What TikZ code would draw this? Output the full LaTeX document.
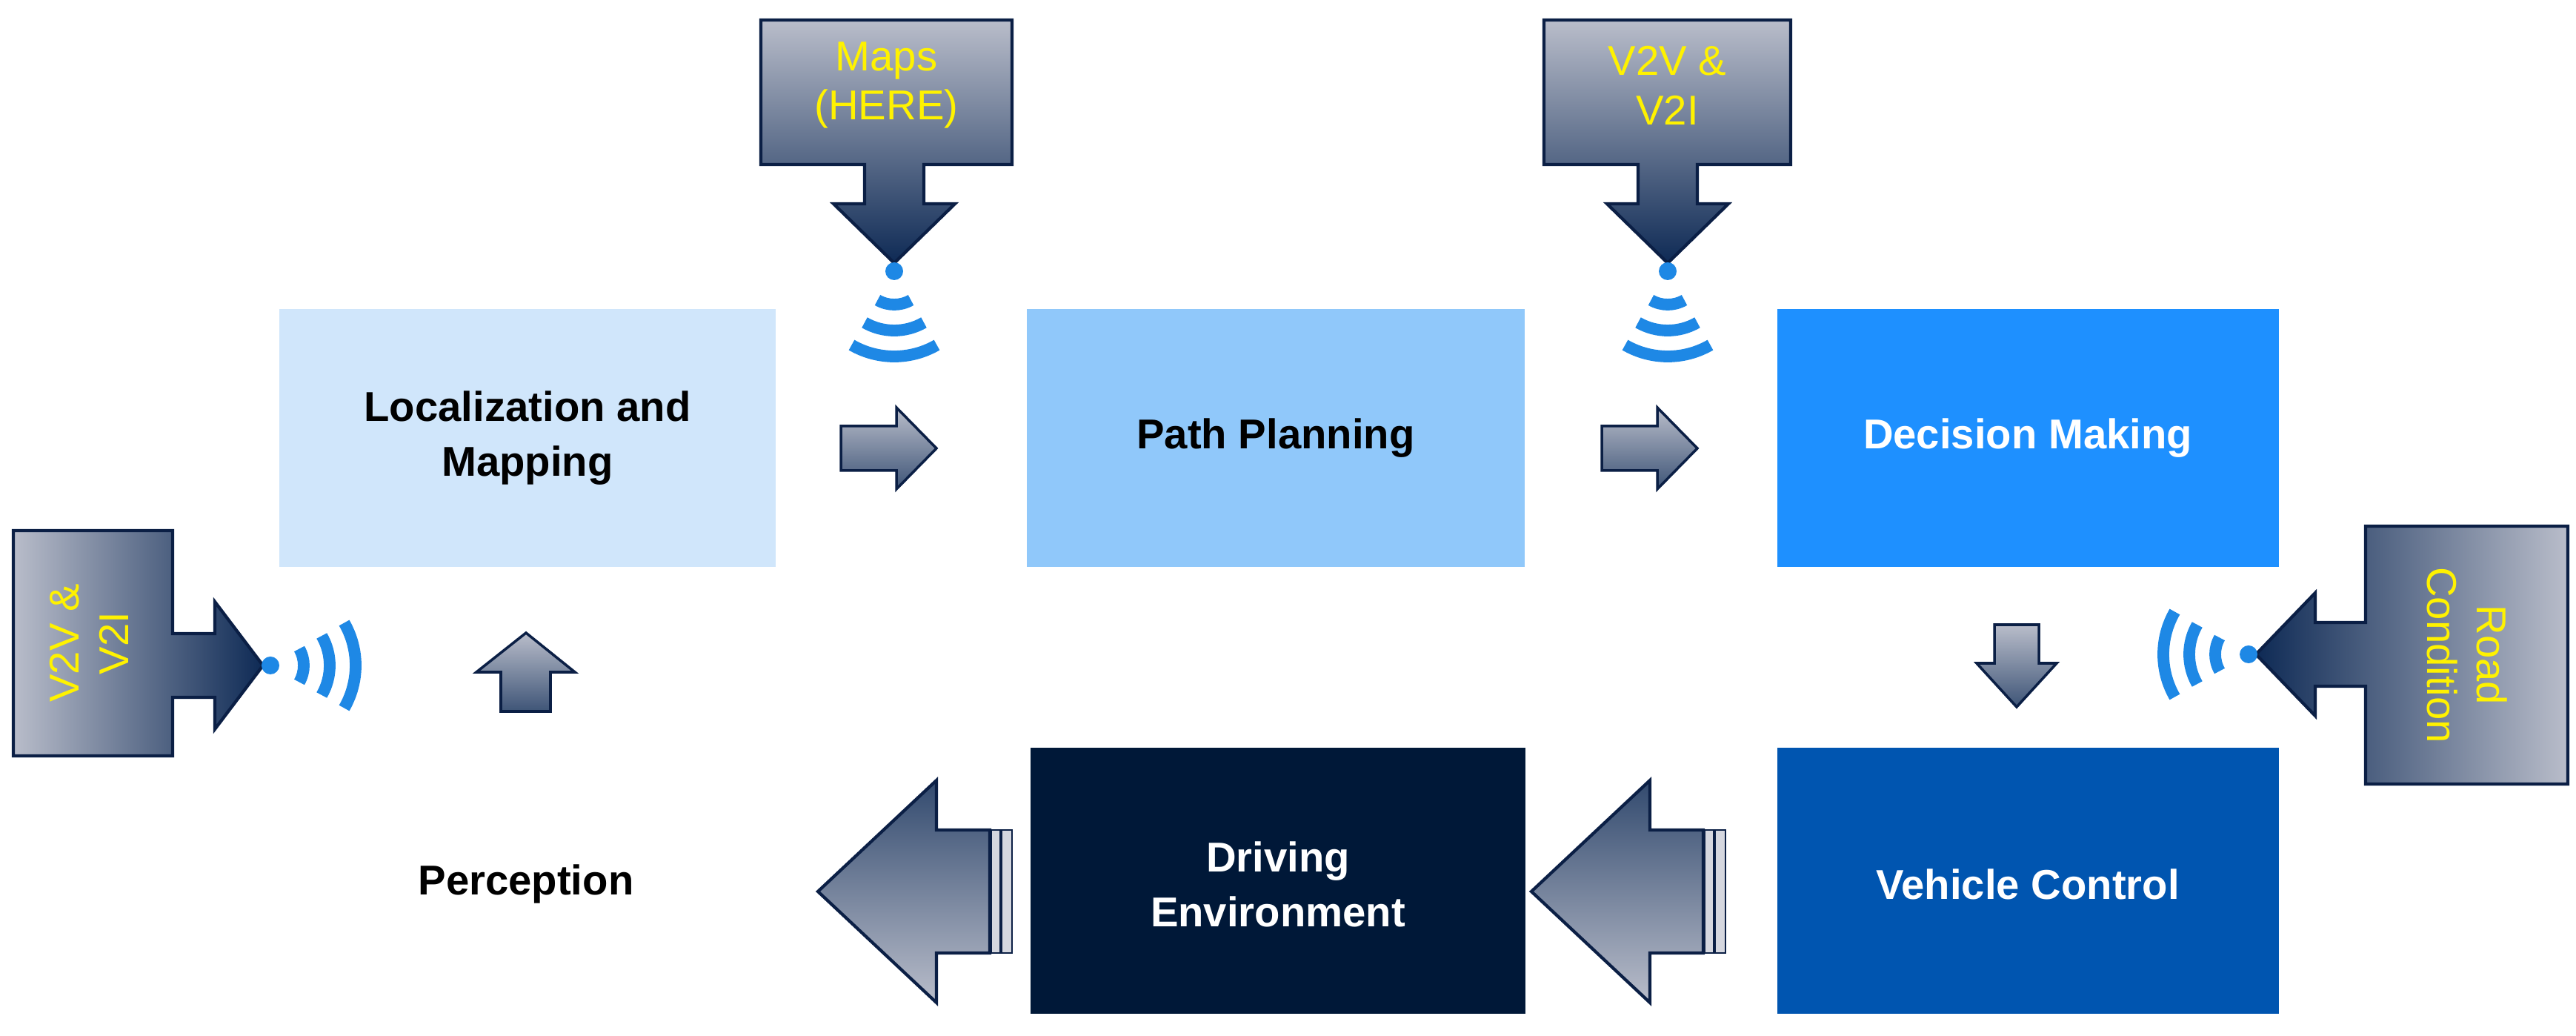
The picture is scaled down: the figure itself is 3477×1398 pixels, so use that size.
\documentclass[tikz,border=0pt]{standalone}
\usepackage{fontspec}
\setmainfont{Liberation Sans}
\begin{document}
\begin{tikzpicture}[x=0.01cm,y=-0.01cm,
  call/.style={draw=navy,line width=1.2pt,top color=cgl,bottom color=cgd},
  callh/.style={draw=navy,line width=1.2pt,left color=cgl,right color=cgd},
  callhr/.style={draw=navy,line width=1.2pt,left color=cgd,right color=cgl},
  yl/.style={text=yellow,font=\fontsize{16}{19}\selectfont,align=center},
  small/.style={draw=navy,line width=1pt,top color=cgl,bottom color=cgd!80},
  big/.style={draw=navy,line width=1.2pt,top color=cgd!85,bottom color=cgl},
  lbl/.style={font=\bfseries\fontsize{16}{21}\selectfont,align=center},
  wifi/.style={draw=wblue,line width=4.5pt},
  dot/.style={circle,fill=wblue,inner sep=0,minimum size=0.24cm}]
\definecolor{navy}{HTML}{0B1F45}
\definecolor{cgl}{HTML}{B9BDCA}
\definecolor{cgd}{HTML}{0E2A55}
\definecolor{wblue}{HTML}{1E88E5}
\useasboundingbox (0,0) rectangle (3477,1398);
% boxes
\fill[fill={rgb,255:red,208;green,230;blue,251}] (377,417) rectangle (1047,765);
\node[lbl] (loc) at (712,591) {Localization and\\Mapping};
\fill[fill={rgb,255:red,144;green,200;blue,250}] (1386,417) rectangle (2058,765);
\node[lbl] (pp) at (1722,591) {Path Planning};
\fill[fill={rgb,255:red,30;green,144;blue,255}] (2399,417) rectangle (3076,765);
\node[lbl,text=white] (dm) at (2737,591) {Decision Making};
\fill[fill={rgb,255:red,0;green,85;blue,176}] (2399,1009) rectangle (3076,1368);
\node[lbl,text=white] (vc) at (2737,1193) {Vehicle Control};
\fill[fill={rgb,255:red,0;green,24;blue,56}] (1391,1009) rectangle (2059,1368);
\node[lbl,text=white] (de) at (1725,1193) {Driving\\Environment};
\node[lbl] (pe) at (710,1193) {Perception};
% top callouts
\foreach \cx/\l/\r/\txt in {1207/1027/1366/{Maps\\(HERE)}, 2251/2084/2417/{V2V \&\\V2I}}{
  \draw[call] (\l,27) -- (\r,27) -- (\r,222) -- (\cx+40,222) -- (\cx+40,275) -- (\cx+82,275) -- (\cx,355) -- (\cx-82,275) -- (\cx-40,275) -- (\cx-40,222) -- (\l,222) -- cycle;
  \node[yl] at ({(\l+\r)/2},115) {\txt};
  \node[dot] at (\cx,366) {};
  \foreach \rr in {45,80,115} \draw[wifi] ([shift={(\cx,366)}]60:\rr) arc[start angle=60,end angle=120,radius=\rr];
}
% left callout
\draw[callh] (18,716) -- (233,716) -- (233,855) -- (290,855) -- (290,812) -- (355,898) -- (290,984) -- (290,941) -- (233,941) -- (233,1020) -- (18,1020) -- cycle;
\node[yl,rotate=90] at (120,868) {V2V \&\\V2I};
\node[dot] (ld) at (365,898) {};
\foreach \rr in {45,80,115} \draw[wifi] ([shift={(365,898)}]-30:\rr) arc[start angle=-30,end angle=30,radius=\rr];
% right callout
\draw[callhr] (3466,710) -- (3193,710) -- (3193,840) -- (3125,840) -- (3125,800) -- (3045,883) -- (3125,966) -- (3125,926) -- (3193,926) -- (3193,1058) -- (3466,1058) -- cycle;
\node[yl,rotate=-90] at (3330,884) {Road\\Condition};
\node[dot] (rd) at (3035,883) {};
\foreach \rr in {45,80,115} \draw[wifi] ([shift={(3035,883)}]150:\rr) arc[start angle=150,end angle=210,radius=\rr];
% small arrows
\foreach \x in {1135,2162}
  \draw[small] (\x,575) -- (\x+75,575) -- (\x+75,550) -- (\x+129,605) -- (\x+75,660) -- (\x+75,635) -- (\x,635) -- cycle;
\draw[small] (2692,843) -- (2752,843) -- (2752,895) -- (2776,895) -- (2722,954) -- (2668,895) -- (2692,895) -- cycle;
\draw[small] (676,960) -- (743,960) -- (743,907) -- (776,907) -- (710,854) -- (643,907) -- (676,907) -- cycle;
% big arrows
\foreach \x in {1104,2067}{
  \draw[big] (\x+232,1120) -- (\x+160,1120) -- (\x+160,1053) -- (\x,1203) -- (\x+160,1353) -- (\x+160,1286) -- (\x+232,1286) -- cycle;
  \draw[navy,line width=0.8pt,fill=cgl!60] (\x+234,1120) rectangle (\x+246,1286);
  \draw[navy,line width=0.8pt,fill=cgl!60] (\x+248,1120) rectangle (\x+262,1286);
}
\end{tikzpicture}
\end{document}
